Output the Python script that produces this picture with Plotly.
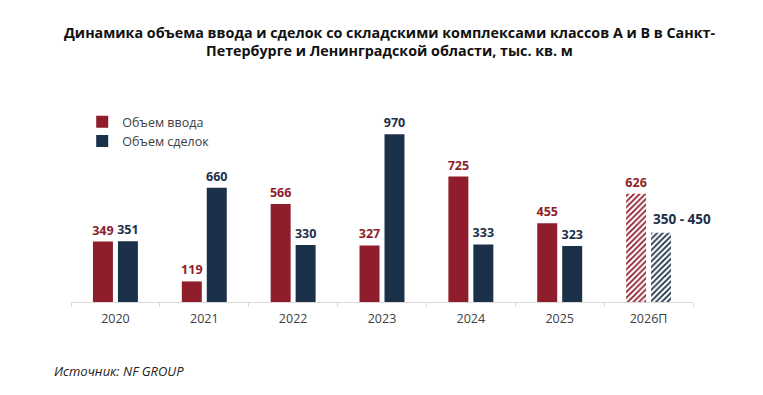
import plotly.graph_objects as go

categories = ["2020", "2021", "2022", "2023", "2024", "2025", "2026П"]
vvod = [349, 119, 566, 327, 725, 455, 626]
sdelki = [351, 660, 330, 970, 333, 323, 400]
vvod_labels = ["349", "119", "566", "327", "725", "455", "626"]
sdelki_labels = ["351", "660", "330", "970", "333", "323", ""]
forecast_range_label = "350 - 450"

RED = "#8f1d2c"
NAVY = "#1b3049"
LABEL_FONT = "Open Sans, sans-serif"

def patterns(color):
    shapes = ["", "", "", "", "", "", "/"]
    return dict(shape=shapes, fgcolor=color, bgcolor="white", size=4, solidity=0.45, fillmode="replace")

fig = go.Figure()
fig.add_trace(go.Bar(
    x=categories, y=vvod, name="Объем ввода",
    marker=dict(color=RED, pattern=patterns(RED), line=dict(width=0)),
    text=vvod_labels, textposition="outside", cliponaxis=False, constraintext="none",
    textfont=dict(family=LABEL_FONT, size=12.5, color=RED, weight="bold"),
))
fig.add_trace(go.Bar(
    x=categories, y=sdelki, name="Объем сделок",
    marker=dict(color=NAVY, pattern=patterns(NAVY), line=dict(width=0)),
    text=sdelki_labels, textposition="outside", cliponaxis=False, constraintext="none",
    textfont=dict(family=LABEL_FONT, size=12.5, color=NAVY, weight="bold"),
))

fig.update_layout(
    width=763, height=395,
    margin=dict(l=63, r=78, t=121, b=101, autoexpand=False),
    paper_bgcolor="white", plot_bgcolor="white",
    barmode="group", bargap=0.438, bargroupgap=0.2,
    showlegend=True,
    legend=dict(x=0.018, y=1.127, xanchor="left", yanchor="top",
                font=dict(family="Open Sans, sans-serif", size=12.5, color="#404040"),
                itemwidth=30, tracegroupgap=0, traceorder="normal",
                bgcolor="rgba(0,0,0,0)"),
    title=dict(
        text="<b>Динамика объема ввода и сделок со складскими комплексами классов А и В в Санкт-<br>Петербурге и Ленинградской области, тыс. кв. м</b>",
        x=0.5, xanchor="center", y=0.925, yanchor="top",
        font=dict(family="Open Sans, sans-serif", size=14.3, color="#111111"),
    ),
    xaxis=dict(
        range=[-0.5, len(categories) - 0.5], autorange=False,
        showgrid=False, showline=True, linecolor="#d9d9d9", linewidth=1,
        ticks="outside", tickson="boundaries", ticklen=4, tickcolor="#d9d9d9",
        ticklabelstandoff=5,
        tickfont=dict(family="Open Sans, sans-serif", size=12.5, color="#404040"),
    ),
    yaxis=dict(range=[0, 1000], visible=False, showgrid=False, zeroline=False),
    annotations=[
        dict(
            text="<i>Источник: NF GROUP</i>", xref="paper", yref="paper",
            x=-0.03, y=-0.40, xanchor="left", yanchor="middle", showarrow=False,
            font=dict(family="Open Sans, sans-serif", size=13, color="#222222"),
        ),
        dict(
            text="<b>" + forecast_range_label + "</b>", xref="x", yref="y",
            x=categories[-1], y=sdelki[-1], xanchor="left", yanchor="bottom",
            xshift=2, yshift=3, showarrow=False,
            font=dict(family=LABEL_FONT, size=13.5, color=NAVY),
        ),
    ],
)

fig.write_html("out.html")
